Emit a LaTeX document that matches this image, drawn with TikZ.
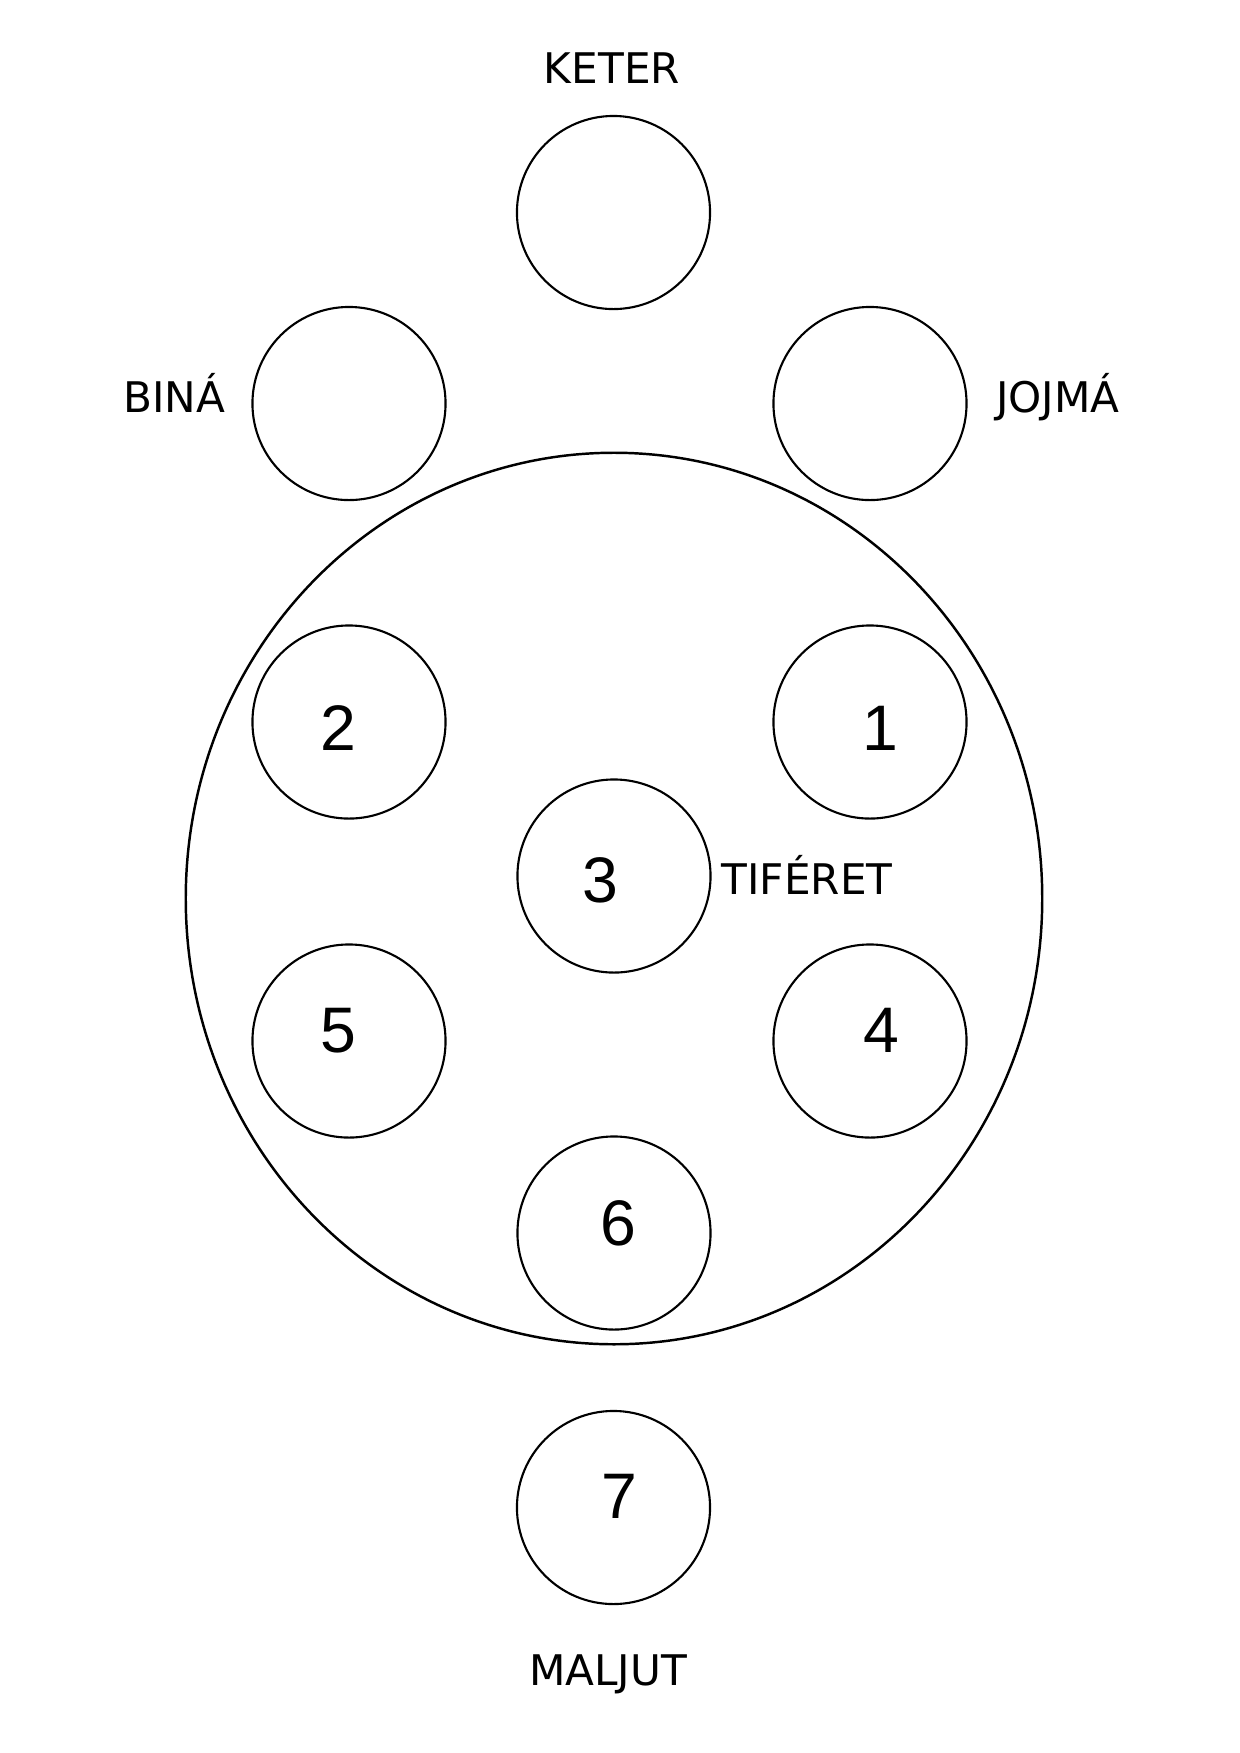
\documentclass[tikz,border=0pt]{standalone}
\usepackage{fontspec}
\setmainfont{DejaVu Sans}
\newfontfamily\numfont{Liberation Sans}
\usetikzlibrary{shapes.geometric}

\begin{document}
\begin{tikzpicture}[x=0.01cm,y=-0.01cm,
    sefira/.style={draw, circle, minimum size=1.93cm, inner sep=0pt, line width=0.6pt},
    seflabel/.style={anchor=base, inner sep=0pt, font=\fontsize{12}{14}\selectfont},
    sefnum/.style={anchor=base, inner sep=0pt, font=\numfont\fontsize{18.3}{20}\selectfont}]
        \useasboundingbox (0,0) rectangle (1240,1753);
        % Upper three
        \node[sefira] (keter) at (613.5,212.5) {};
        \node[sefira] (bina) at (349,403.5) {};
        \node[sefira] (jojma) at (870,403.5) {};
        \node[seflabel] (keterlbl) at (612,83) {KETER};
        \node[seflabel] (binalbl) at (174.5,412) {BINÁ};
        \node[seflabel] (jojmalbl) at (1058,412) {JOJMÁ};
        % The big circle with six inside
        \node[draw, ellipse, minimum width=8.56cm, minimum height=8.91cm, inner sep=0pt, line width=0.7pt] (big) at (614,898.5) {};
        \node[sefira] (s2) at (349,722) {};
        \node[sefira] (s1) at (870,722) {};
        \node[sefira] (s3) at (614,876) {};
        \node[sefira] (s5) at (349,1041) {};
        \node[sefira] (s4) at (870,1041) {};
        \node[sefira] (s6) at (614,1233) {};
        \node[sefnum] (n2) at (338,750) {2};
        \node[sefnum] (n1) at (880,750) {1};
        \node[sefnum] (n3) at (600,902) {3};
        \node[sefnum] (n5) at (338,1052) {5};
        \node[sefnum] (n4) at (881,1052) {4};
        \node[sefnum] (n6) at (618,1245) {6};
        \node[seflabel] (tiferetlbl) at (807,894) {TIFÉRET};
        % Bottom one
        \node[sefira] (s7) at (613.5,1507.5) {};
        \node[sefnum] (n7) at (619,1518) {7};
        \node[seflabel] (maljutlbl) at (608,1685) {MALJUT};
\end{tikzpicture}
\end{document}
